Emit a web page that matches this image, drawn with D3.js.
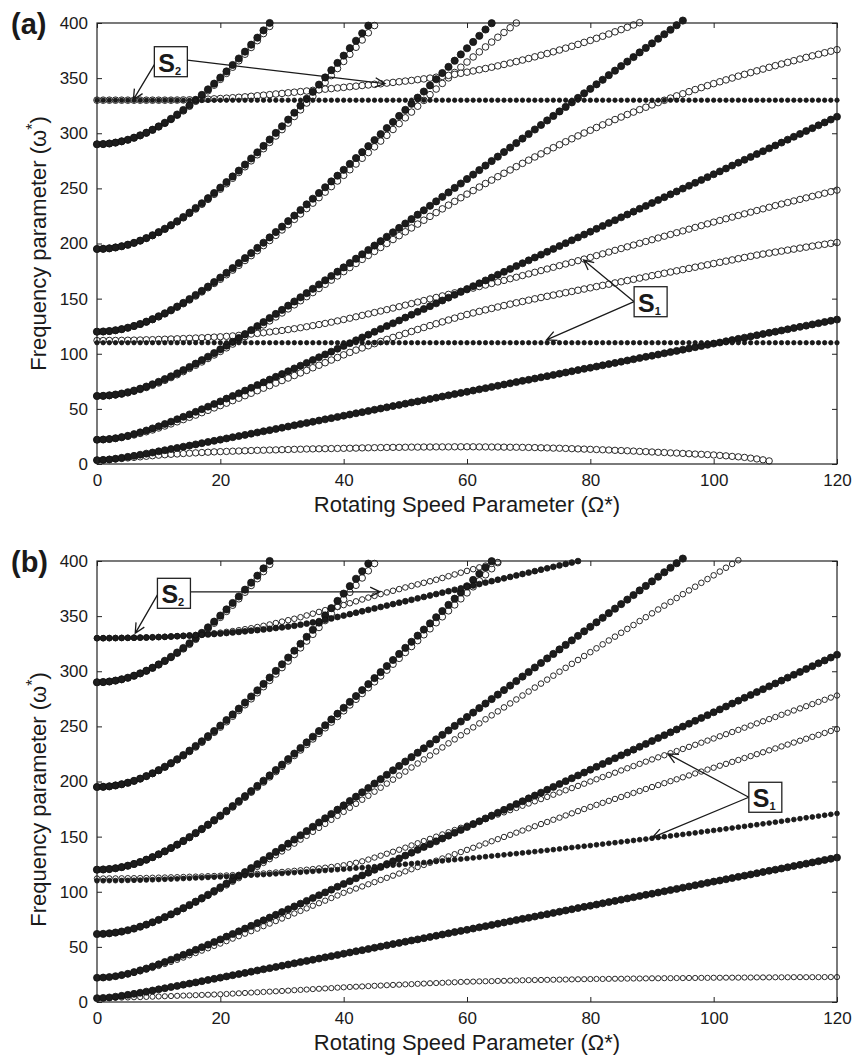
<!DOCTYPE html>
<meta charset="utf-8">
<style>
body { margin: 0; background: #fff; }
text { font-family: Arial, "Liberation Sans", sans-serif; fill: #1a1a1a; }
.frame { fill: none; stroke: #222; stroke-width: 1.2px; }
.tick line { stroke: #222; stroke-width: 1px; }
.tick text { font-size: 17px; fill: #1a1a1a; }
.domain { display: none; }
.full { fill: #1c1c1c; stroke: #111; stroke-width: 0.8px; }
.open { fill: #fff; stroke: #111; stroke-width: 0.9px; }
.title { font-size: 22px; }
.panel-tag { font-size: 29px; font-weight: bold; }
.note rect { fill: #fff; stroke: #222; stroke-width: 1.3px; }
.note text { font-size: 25px; font-weight: bold; }
.arrow { fill: none; stroke: #1a1a1a; stroke-width: 1.3px; }
</style>
<body>
<svg id="chart" width="853" height="1055"></svg>
<script src="https://d3js.org/d3.v7.min.js"></script>
<script>
// every series starts at rotating speed 0 and steps by 1
var xTicks = [0, 20, 40, 60, 80, 100, 120];
var yTicks = [0, 50, 100, 150, 200, 250, 300, 350, 400];

// ---- panel (a) ----
var aF1 = [3.5,3.7,4.1,4.8,5.6,6.5,7.4,8.4,9.4,10.4,11.5,12.5,13.6,14.6,15.7,16.7,17.8,18.9,20,21,22.1,23.2,24.3,25.3,26.4,27.5,28.6,29.7,30.7,31.8,32.9,34,35.1,36.2,37.3,38.3,39.4,40.5,41.6,42.7,43.8,44.9,46,47,48.1,49.2,50.3,51.4,52.5,53.6,54.7,55.8,56.8,57.9,59,60.1,61.2,62.3,63.4,64.5,65.5,66.6,67.7,68.8,69.9,71,72.1,73.2,74.3,75.4,76.4,77.5,78.6,79.7,80.8,81.9,83,84.1,85.2,86.3,87.3,88.4,89.5,90.6,91.7,92.8,93.9,95,96.1,97.2,98.2,99.3,100.4,101.5,102.6,103.7,104.8,105.9,107,108.1,109.2,110.2,111.3,112.4,113.5,114.6,115.7,116.8,117.9,119,120,121.1,122.2,123.3,124.4,125.5,126.6,127.7,128.8,129.9,131];
var aO1 = [3.5,3.8,4.2,4.6,5,5.5,6,6.5,7,7.5,8,8.4,8.8,9.1,9.5,9.8,10.1,10.4,10.7,11,11.2,11.4,11.6,11.8,12,12.2,12.4,12.5,12.7,12.8,13,13.1,13.3,13.4,13.6,13.7,13.8,13.9,14,14.1,14.2,14.3,14.4,14.6,14.7,14.8,14.9,15,15.1,15.1,15.2,15.3,15.3,15.4,15.4,15.5,15.5,15.5,15.6,15.6,15.6,15.6,15.5,15.5,15.4,15.4,15.3,15.2,15.2,15.1,15,14.9,14.7,14.6,14.4,14.3,14.1,13.9,13.7,13.5,13.3,13.1,12.9,12.7,12.4,12.2,12,11.7,11.4,11.2,10.9,10.6,10.4,10.1,9.9,9.6,9.3,9,8.8,8.5,8.2,7.8,7.4,6.9,6.5,6,5.3,4.6,3.8,2.8];
var aF2 = [22,22.2,22.6,23.4,24.4,25.6,27.1,28.7,30.4,32.3,34.2,36.3,38.4,40.6,42.8,45,47.3,49.7,52,54.4,56.8,59.3,61.7,64.1,66.6,69.1,71.6,74.1,76.6,79.1,81.6,84.1,86.7,89.2,91.7,94.3,96.8,99.4,101.9,104.5,107.1,109.6,112.2,114.8,117.3,119.9,122.5,125.1,127.6,130.2,132.8,135.4,138,140.6,143.1,145.7,148.3,150.9,153.5,156.1,158.7,161.3,163.9,166.5,169.1,171.7,174.3,176.9,179.5,182.1,184.7,187.3,189.9,192.5,195.1,197.7,200.3,202.9,205.5,208.1,210.7,213.3,215.9,218.5,221.1,223.7,226.3,228.9,231.5,234.1,236.7,239.4,242,244.6,247.2,249.8,252.4,255,257.6,260.2,262.8,265.4,268,270.7,273.3,275.9,278.5,281.1,283.7,286.3,288.9,291.5,294.2,296.8,299.4,302,304.6,307.2,309.8,312.4,315];
var aO2 = [22,22.2,22.6,23.2,24,25.1,26.4,27.8,29.3,30.9,32.7,34.5,36.4,38.3,40.3,42.4,44.4,46.6,48.7,50.9,53,55.2,57.5,59.7,62,64.2,66.5,68.8,71.1,73.4,75.7,78,80.3,82.6,84.9,87.3,89.6,91.9,94.3,96.6,99,101.2,103.3,105.3,107.3,109.2,111.1,113,114.8,116.6,118.4,120.2,122,123.8,125.5,127.2,128.9,130.6,132.3,134,135.6,137,138.4,139.8,141.1,142.4,143.7,145,146.2,147.4,148.6,149.8,151,152.1,153.2,154.3,155.4,156.5,157.6,158.7,159.8,160.9,162,163.1,164.2,165.3,166.4,167.5,168.6,169.7,170.8,171.9,173,174.1,175.2,176.3,177.4,178.5,179.6,180.7,181.8,182.9,184,185.1,186.2,187.3,188.4,189.5,190.4,191.3,192.2,193.1,194,194.9,195.8,196.7,197.6,198.5,199.3,200.1,200.9];
var aF3 = [61.7,61.8,62.3,63,63.9,65.1,66.6,68.3,70.2,72.3,74.5,77,79.5,82.2,85.1,88,91,94.2,97.3,100.6,104,107.4,110.8,114.3,117.8,121.4,125,128.7,132.4,136.1,139.8,143.6,147.4,151.2,155,158.9,162.8,166.6,170.5,174.4,178.3,182.3,186.2,190.2,194.1,198.1,202.1,206.1,210.1,214.1,218.1,222.1,226.1,230.1,234.2,238.2,242.3,246.3,250.4,254.4,258.5,262.5,266.6,270.7,274.8,278.8,282.9,287,291.1,295.2,299.3,303.4,307.5,311.6,315.7,319.8,323.9,328,332.1,336.2,340.3,344.4,348.5,352.7,356.8,360.9,365,369.1,373.3,377.4,381.5,385.7,389.8,393.9,398,402.2];
var aO3 = [61.7,61.8,62.1,62.7,63.5,64.6,66,67.6,69.4,71.4,73.5,75.9,78.4,81,83.8,86.7,89.6,92.6,95.7,98.9,102.1,105.4,108.8,112.2,115.6,119.1,122.6,126.2,129.8,133.4,137,140.7,144.4,148.1,151.8,155.5,159.2,163,166.8,170.6,174.5,178.2,181.9,185.6,189.2,192.8,196.4,200,203.6,207.1,210.6,214.1,217.6,221.1,224.6,228,231.4,234.8,238.2,241.5,244.8,248,251.2,254.4,257.5,260.6,263.7,266.7,269.7,272.7,275.6,278.5,281.3,284.1,286.9,289.6,292.3,295,297.6,300.2,302.7,305.2,307.6,310,312.4,314.7,317,319.2,321.4,323.6,325.7,327.8,329.9,331.9,333.9,335.8,337.7,339.6,341.4,343.2,345,346.7,348.4,350.1,351.8,353.4,355,356.6,358.2,359.8,361.3,362.8,364.3,365.8,367.3,368.8,370.2,371.6,373,374.4,375.8];
var aF4 = [120,120.2,120.6,121.3,122.3,123.6,125.2,127,129.1,131.4,134,136.7,139.7,142.8,146.1,149.6,153.3,157,160.9,165,169.1,173.4,177.7,182.2,186.7,191.3,196,200.7,205.5,210.4,215.3,220.3,225.3,230.4,235.5,240.6,245.8,251,256.3,261.5,266.8,272.2,277.5,282.9,288.3,293.8,299.2,304.7,310.2,315.7,321.2,326.7,332.3,337.8,343.4,349,354.6,360.2,365.8,371.5,377.1,382.8,388.4,394.1,399.8];
var aO4 = [120,120.1,120.5,121.2,122.2,123.5,125,126.8,128.8,131,133.5,136.2,139.1,142.2,145.4,148.8,152.4,156.1,159.9,163.8,167.6,171.7,175.9,180.2,184.6,189,193.5,198.1,202.7,207.4,212.3,217.1,221.9,226.8,231.7,236.6,241.6,246.6,251.6,256.7,261.8,266.9,272.1,277.3,282.5,287.7,292.9,298.1,303.4,308.7,314,319.2,324.5,329.8,335,340.1,345.2,350.2,355.1,359.9,364.6,369.2,373.8,378.3,382.7,387.1,391.4,395.7,400];
var aF5 = [195,195.2,195.6,196.4,197.5,198.9,200.6,202.6,204.9,207.5,210.3,213.4,216.7,220.2,224,228,232.2,236.5,241.1,245.8,250.7,255.7,260.8,266.1,271.6,277.1,282.7,288.5,294.3,300.3,306.3,312.4,318.6,324.9,331.2,337.6,344.1,350.6,357.2,363.8,370.4,377.2,383.9,390.7,397.6];
var aO5 = [195,195.2,195.6,196.4,197.5,198.8,200.5,202.5,204.7,207.2,210,213,216.2,219.7,223.3,227.2,231.3,235.6,240,244.6,249.3,254.2,259.2,264.4,269.6,275,280.5,286,291.7,297.5,303.3,309.2,315.2,321.2,327.4,333.5,339.7,346,352.3,358.7,365.1,371.6,378,384.6,391.1,397.7];
var aF6 = [290,290.2,290.7,291.5,292.7,294.1,296,298.1,300.5,303.2,306.2,309.5,313.1,317,321.1,325.4,330,334.8,339.8,345,350.5,356.1,361.9,367.8,374,380.3,386.7,393.3,400];
var aO6 = [290,290.2,290.7,291.5,292.6,294,295.8,297.9,300.2,302.9,305.8,309.1,312.5,316.3,320.3,324.5,329,333.6,338.5,343.6,348.9,354.3,359.9,365.7,371.7,377.8,384,390.4,396.9];
var aOS1 = [112,112,112.1,112.1,112.2,112.3,112.4,112.5,112.7,112.8,113,113.2,113.4,113.6,113.8,114,114.3,114.5,114.8,115.1,115.4,115.8,116.2,116.7,117.2,117.8,118.4,119,119.7,120.4,121.1,121.9,122.7,123.6,124.5,125.5,126.5,127.5,128.6,129.8,131,132.2,133.5,134.8,136.1,137.4,138.7,140,141.4,142.7,144.1,145.5,146.9,148.3,149.7,151.1,152.5,153.9,155.3,156.7,158.1,159.5,160.9,162.3,163.7,165.1,166.5,168,169.4,170.9,172.4,173.9,175.4,176.9,178.4,179.9,181.4,182.9,184.4,185.9,187.4,189,190.6,192.2,193.8,195.4,197,198.6,200.2,201.8,203.4,205,206.6,208.2,209.8,211.4,213,214.6,216.2,217.8,219.4,220.9,222.4,223.9,225.4,226.9,228.4,229.9,231.4,232.9,234.4,235.8,237.2,238.6,240,241.4,242.8,244.2,245.6,247,248.4];
var aOS2 = [330,330,330,330,330,330,330,330,330,330,330,330,330,330.1,330.2,330.3,330.5,330.7,330.9,331.2,331.5,331.8,332.2,332.6,333,333.5,334,334.5,335,335.6,336.1,336.7,337.2,337.8,338.3,338.9,339.4,340,340.5,341.1,341.6,342.2,342.7,343.3,343.8,344.4,344.9,345.5,346.1,346.7,347.3,347.9,348.6,349.3,350,350.8,351.6,352.5,353.4,354.4,355.4,356.5,357.6,358.7,359.9,361.1,362.4,363.7,365,366.4,367.8,369.3,370.8,372.3,373.9,375.5,377.2,378.9,380.6,382.4,384.2,386.1,388,390,392,394,396.1,398.2,400.3];
var aS1 = [110,110,110,110,110,110,110,110,110,110,110,110,110,110,110,110,110,110,110,110,110,110,110,110,110,110,110,110,110,110,110,110,110,110,110,110,110,110,110,110,110,110,110,110,110,110,110,110,110,110,110,110,110,110,110,110,110,110,110,110,110,110,110,110,110,110,110,110,110,110,110,110,110,110,110,110,110,110,110,110,110,110,110,110,110,110,110,110,110,110,110,110,110,110,110,110,110,110,110,110,110,110,110,110,110,110,110,110,110,110,110,110,110,110,110,110,110,110,110,110,110];
var aS2 = [330,330,330,330,330,330,330,330,330,330,330,330,330,330,330,330,330,330,330,330,330,330,330,330,330,330,330,330,330,330,330,330,330,330,330,330,330,330,330,330,330,330,330,330,330,330,330,330,330,330,330,330,330,330,330,330,330,330,330,330,330,330,330,330,330,330,330,330,330,330,330,330,330,330,330,330,330,330,330,330,330,330,330,330,330,330,330,330,330,330,330,330,330,330,330,330,330,330,330,330,330,330,330,330,330,330,330,330,330,330,330,330,330,330,330,330,330,330,330,330,330];

// ---- panel (b) ----  (filled bending curves are the same as in (a))
var bO1 = [3.5,3.6,3.7,3.8,4,4.1,4.3,4.4,4.6,4.8,5,5.2,5.4,5.6,5.8,6,6.2,6.4,6.6,6.8,7,7.3,7.6,7.9,8.2,8.5,8.8,9.1,9.4,9.7,10,10.3,10.7,11,11.3,11.7,12,12.3,12.6,13,13.3,13.6,13.9,14.1,14.4,14.7,14.9,15.2,15.5,15.7,16,16.2,16.5,16.7,17,17.2,17.4,17.7,17.9,18.2,18.4,18.5,18.7,18.8,18.9,19.1,19.2,19.4,19.5,19.7,19.8,19.9,20,20.1,20.2,20.3,20.4,20.5,20.6,20.7,20.8,20.9,20.9,21,21.1,21.1,21.2,21.3,21.3,21.4,21.5,21.5,21.6,21.6,21.7,21.7,21.8,21.8,21.9,21.9,22,22,22.1,22.1,22.1,22.2,22.2,22.3,22.3,22.3,22.4,22.4,22.4,22.5,22.5,22.5,22.5,22.5,22.6,22.6,22.6];
var bO2 = [22,22.2,22.6,23.2,24,25.1,26.4,27.8,29.3,30.9,32.7,34.5,36.4,38.3,40.3,42.4,44.4,46.6,48.7,50.9,53,55.2,57.5,59.7,62,64.2,66.5,68.8,71.1,73.4,75.7,78,80.3,82.6,84.9,87.3,89.6,91.9,94.3,96.6,99,101,102.9,104.8,106.8,108.7,110.7,112.6,114.6,116.5,118.5,120.4,122.4,124.3,126.3,128.2,130.2,132.1,134.1,136,138,139.9,141.9,143.8,145.8,147.7,149.7,151.6,153.6,155.5,157.5,159.4,161.4,163.3,165.3,167.2,169.2,171.1,173.1,175,177,178.8,180.6,182.4,184.2,186,187.8,189.6,191.4,193.2,195,196.8,198.5,200.3,202,203.8,205.5,207.3,209,210.8,212.5,214.3,216,217.8,219.5,221.3,223,224.8,226.5,228.3,230,231.8,233.5,235.3,237,238.8,240.5,242.3,244,245.8,247.5];
var bO3 = [61.7,61.8,62.2,62.9,63.8,65.1,66.5,68.1,70,72,74.2,76.6,79.1,81.7,84.4,87.2,90.2,93.2,96.3,99.4,102.5,105.8,109.1,112.4,115.8,119.2,122.7,126.2,129.6,133.1,136.6,140.2,143.7,147.3,150.8,154.4,158,161.6,165.3,168.9,172.5,176.2,179.8,183.5,187.1,190.8,194.4,198.1,201.7,205.4,209,212.7,216.3,220,223.6,227.3,230.9,234.6,238.2,241.9,245.5,249.1,252.7,256.4,260,263.6,267.2,270.8,274.4,278,281.6,285.2,288.8,292.4,296,299.6,303.1,306.7,310.2,313.8,317.3,320.8,324.4,327.9,331.4,334.9,338.4,341.9,345.5,349,352.5,356,359.5,362.9,366.4,369.9,373.3,376.7,380.2,383.6,387,390.4,393.9,397.3,400.7];
var bO4 = [120,120.2,120.6,121.3,122.3,123.6,125.1,126.9,129,131.3,133.8,136.5,139.5,142.5,145.8,149.2,152.9,156.5,160.4,164.4,168.4,172.7,176.9,181.3,185.7,190.3,194.9,199.5,204.2,209,213.8,218.7,223.6,228.6,233.6,238.6,243.6,248.7,253.9,259,264.1,269.4,274.6,279.8,285.1,290.4,295.7,301,306.4,311.7,317,322.4,327.8,333.1,338.5,344,349.4,354.8,360.2,365.7,371.1,376.6,382,387.5,393,398.5];
var bOS1 = [112,112,112.1,112.1,112.2,112.3,112.3,112.4,112.5,112.7,112.8,112.9,113.1,113.2,113.4,113.6,113.7,113.9,114.1,114.3,114.5,114.8,115.1,115.4,115.7,116,116.3,116.6,117,117.5,118,118.5,119,119.5,120,120.6,121.2,121.8,122.5,123.2,124,125.1,126.3,127.6,129.2,131,132.7,134.5,136.3,138.1,140,142,144,146,148,150,152,154,156,158,160,162,164,166,168,170,172,174,176,178,180,182,184,186,188,190,192,194,196,198,200,202,204,206,208,210,212,214,216,218,220,221.9,223.8,225.7,227.6,229.5,231.4,233.3,235.2,237.1,239,241,242.9,244.9,246.8,248.8,250.7,252.7,254.6,256.6,258.5,260.5,262.4,264.4,266.3,268.3,270.2,272.2,274.1,276.1,278];
var bOS2 = [330,330,330,330.1,330.2,330.3,330.4,330.5,330.6,330.8,331,331.2,331.5,331.8,332.1,332.5,332.9,333.4,333.9,334.4,335,335.7,336.4,337.2,338.1,339,340.1,341.2,342.4,343.7,345,346.3,347.6,349,350.6,352.2,353.8,355.4,357,358.5,360,361.7,363.4,365.1,366.8,368.4,370,371.5,373,374.5,376,377.4,378.8,380.2,381.6,383,384.6,386.2,387.8,389.4,391,392.6,394.2,395.8,397.4,399];
var bS1 = [110,110,110.1,110.1,110.2,110.3,110.4,110.5,110.7,110.9,111.1,111.3,111.5,111.7,112,112.2,112.5,112.7,113,113.2,113.5,113.8,114.1,114.4,114.7,115,115.3,115.6,115.9,116.3,116.6,117,117.4,117.7,118.1,118.5,118.9,119.3,119.7,120.1,120.5,120.9,121.4,121.8,122.3,122.7,123.2,123.6,124.1,124.5,125,125.5,126,126.5,127,127.5,128,128.6,129.1,129.6,130.1,130.7,131.2,131.8,132.4,132.9,133.5,134.1,134.6,135.2,135.8,136.4,137,137.6,138.2,138.8,139.5,140.1,140.7,141.3,141.9,142.6,143.2,143.9,144.5,145.2,145.8,146.5,147.2,147.8,148.5,149.2,149.9,150.6,151.3,152,152.7,153.4,154.2,154.9,155.6,156.3,157.1,157.8,158.6,159.3,160.1,160.8,161.6,162.3,163.1,163.9,164.7,165.5,166.3,167.1,167.8,168.6,169.4,170.2,171];
var bS2 = [330,330,330.1,330.1,330.2,330.3,330.4,330.5,330.6,330.8,331,331.2,331.5,331.8,332.1,332.4,332.7,333.1,333.4,333.8,334.2,334.7,335.2,335.7,336.2,336.8,337.3,337.9,338.5,339.2,339.8,340.5,341.3,342.2,343.2,344.3,345.5,346.7,347.9,349.2,350.5,351.8,353.1,354.4,355.7,357,358.3,359.6,360.9,362.2,363.5,364.8,366.1,367.4,368.7,370,371.3,372.6,373.9,375.2,376.5,377.8,379.1,380.4,381.7,383,384.3,385.6,386.9,388.2,389.5,390.8,392.1,393.4,394.7,396,397.3,398.6,399.9];

var svg = d3.select("#chart");

var panels = [
  { tag: "(a)", top: 23, bottom: 464, ylabelShift: 0,
    series: [
      { v: aO1, kind: "open", r: 3.2 }, { v: aO2, kind: "open", r: 3.3 },
      { v: aO3, kind: "open", r: 3.3 }, { v: aO4, kind: "open", r: 3.3 },
      { v: aO5, kind: "open", r: 3.3 }, { v: aO6, kind: "open", r: 3.3 },
      { v: aOS1, kind: "open", r: 3.2 }, { v: aOS2, kind: "open", r: 3.3 },
      { v: aF1, kind: "full", r: 3.5 }, { v: aF2, kind: "full", r: 3.5 },
      { v: aF3, kind: "full", r: 3.6 }, { v: aF4, kind: "full", r: 3.6 },
      { v: aF5, kind: "full", r: 3.6 }, { v: aF6, kind: "full", r: 3.6 },
      { v: aS1, kind: "full", r: 2.2 }, { v: aS2, kind: "full", r: 2.2 }
    ],
    notes: [
      { label: "2", box: [9.3, 378.5], tips: [[5.9, 330.5], [46.7, 345]], from: [[0, 0.6], [1, 0.45]] },
      { label: "1", box: [87.1, 160.8], tips: [[78.9, 185], [72.9, 112.5]], from: [[0, 0.5], [0, 0.5]] }
    ] },
  { tag: "(b)", top: 561, bottom: 1002, ylabelShift: 18,
    series: [
      { v: bO1, kind: "open", r: 2.6 }, { v: bO2, kind: "open", r: 2.7 },
      { v: bO3, kind: "open", r: 2.8 }, { v: bO4, kind: "open", r: 3.3 },
      { v: aO5, kind: "open", r: 3.3 }, { v: aO6, kind: "open", r: 3.3 },
      { v: bOS1, kind: "open", r: 2.7 }, { v: bOS2, kind: "open", r: 2.8 },
      { v: aF1, kind: "full", r: 3.5 }, { v: aF2, kind: "full", r: 3.5 },
      { v: aF3, kind: "full", r: 3.6 }, { v: aF4, kind: "full", r: 3.6 },
      { v: aF5, kind: "full", r: 3.6 }, { v: aF6, kind: "full", r: 3.6 },
      { v: bS1, kind: "full", r: 2.4 }, { v: bS2, kind: "full", r: 2.9 }
    ],
    notes: [
      { label: "2", box: [9.8, 384.3], tips: [[6.2, 334.4], [45.9, 372]], from: [[0, 0.55], [1, 0.45]] },
      { label: "1", box: [105.7, 199.3], tips: [[92.6, 225], [90.1, 149.4]], from: [[0, 0.5], [0, 0.5]] }
    ] }
];

panels.forEach(function(p) {
  var x = d3.scaleLinear().domain([0, 120]).range([97, 837]);
  var y = d3.scaleLinear().domain([0, 400]).range([p.bottom, p.top]);
  var g = svg.append("g");

  // markers, open ones underneath the filled ones
  p.series.forEach(function(s) {
    g.append("g").selectAll("circle")
      .data(s.v)
      .enter().append("circle")
      .attr("class", s.kind)
      .attr("cx", function(d, i) { return x(i); })
      .attr("cy", function(d) { return y(d); })
      .attr("r", s.r);
  });

  g.append("rect").attr("class", "frame")
    .attr("x", x(0)).attr("y", y(400))
    .attr("width", x(120) - x(0)).attr("height", y(0) - y(400));

  g.append("g").attr("transform", "translate(0," + p.bottom + ")")
    .call(d3.axisBottom(x).tickValues(xTicks).tickSize(-5).tickPadding(10));
  g.append("g").attr("transform", "translate(0," + p.top + ")")
    .call(d3.axisTop(x).tickValues(xTicks).tickSize(-5).tickFormat(""));
  g.append("g").attr("transform", "translate(97,0)")
    .call(d3.axisLeft(y).tickValues(yTicks).tickSize(-5).tickPadding(9));
  g.append("g").attr("transform", "translate(837,0)")
    .call(d3.axisRight(y).tickValues(yTicks).tickSize(-5).tickFormat(""));
  g.selectAll(".tick text").attr("font-family", null);

  g.append("text").attr("class", "title")
    .attr("x", 467).attr("y", p.bottom + 48)
    .attr("text-anchor", "middle")
    .text("Rotating Speed Parameter (\u03A9*)");

  var yl = g.append("text").attr("class", "title")
    .attr("transform", "translate(46," + ((p.top + p.bottom) / 2 + p.ylabelShift) + ") rotate(-90)")
    .attr("text-anchor", "middle");
  yl.append("tspan").text("Frequency parameter (\u03C9");
  yl.append("tspan").attr("dy", -8).attr("font-size", 16).text("*");
  yl.append("tspan").attr("dy", 8).text(")");

  g.append("text").attr("class", "panel-tag")
    .attr("x", 11).attr("y", p.top + 11).text(p.tag);

  // S1 / S2 callouts
  p.notes.forEach(function(n) {
    var bx = x(n.box[0]), by = y(n.box[1]), bw = 33, bh = 30;
    n.tips.forEach(function(t, k) {
      var sx = bx + n.from[k][0] * bw, sy = by + n.from[k][1] * bh;
      var tx = x(t[0]), ty = y(t[1]);
      var a = Math.atan2(sy - ty, sx - tx), L = 11, w = 0.45;
      g.append("path").attr("class", "arrow")
        .attr("d", "M" + sx + "," + sy + "L" + tx + "," + ty +
          "M" + (tx + L * Math.cos(a + w)) + "," + (ty + L * Math.sin(a + w)) +
          "L" + tx + "," + ty +
          "L" + (tx + L * Math.cos(a - w)) + "," + (ty + L * Math.sin(a - w)));
    });
    var ng = g.append("g").attr("class", "note");
    ng.append("rect").attr("x", bx).attr("y", by).attr("width", bw).attr("height", bh);
    var t = ng.append("text").attr("x", bx + 4).attr("y", by + 25);
    t.append("tspan").text("S");
    t.append("tspan").attr("font-size", 11).attr("dy", 3).text(n.label);
  });
});
</script>
</body>
